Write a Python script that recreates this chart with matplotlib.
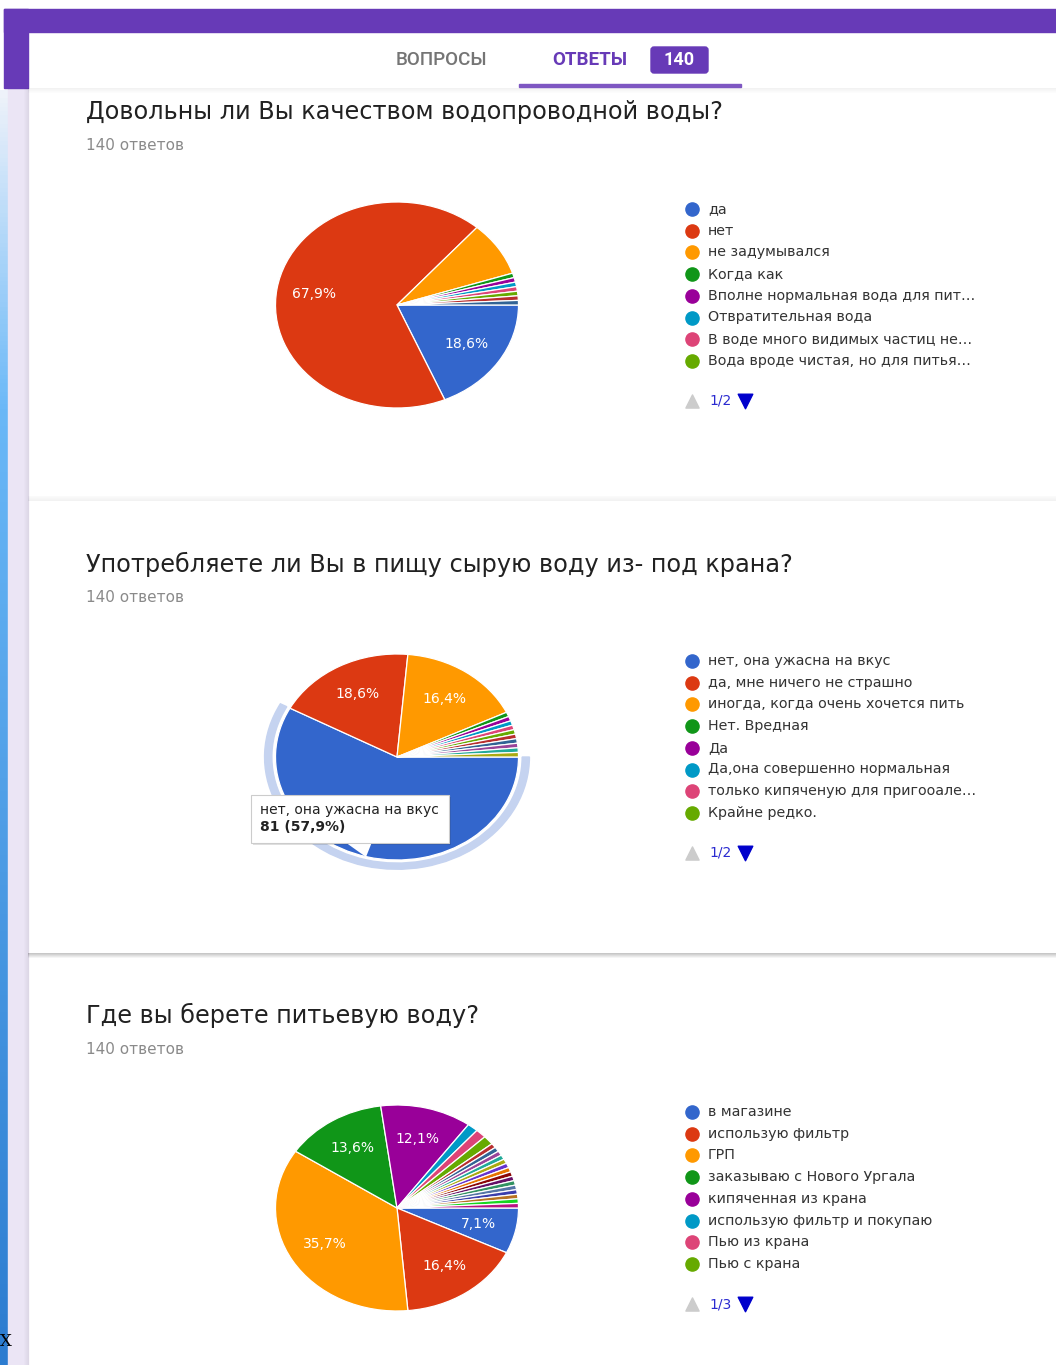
import numpy as np
import matplotlib
matplotlib.use('Agg')
import matplotlib.pyplot as plt
from matplotlib.patches import Rectangle, FancyBboxPatch, Wedge, Polygon

W, H = 1056, 1365
plt.rcParams['font.family'] = ['DejaVu Sans']

# Google charts palette
palette = ['#3366cc', '#dc3912', '#ff9900', '#109618', '#990099', '#0099c6',
           '#dd4477', '#66aa00', '#b82e2e', '#316395', '#994499', '#22aa99',
           '#aaaa11', '#6633cc', '#e67300', '#8b0707', '#651067', '#329262',
           '#5574a6', '#3b3eac', '#b77322', '#16d620', '#b91383', '#f4359e',
           '#9c5935', '#a9c413', '#2a778d', '#668d1c', '#bea413', '#0c5922']

total = 140

q1_title = 'Довольны ли Вы качеством водопроводной воды?'
q1_legend = ['да', 'нет', 'не задумывался', 'Когда как',
             'Вполне нормальная вода для пит…', 'Отвратительная вода',
             'В воде много видимых частиц не…', 'Вода вроде чистая, но для питья…']
q1_counts = [26, 95, 12, 1, 1, 1, 1, 1, 1, 1]
q1_page = '1/2'

q2_title = 'Употребляете ли Вы в пищу сырую воду из- под крана?'
q2_legend = ['нет, она ужасна на вкус', 'да, мне ничего не страшно',
             'иногда, когда очень хочется пить', 'Нет. Вредная', 'Да',
             'Да,она совершенно нормальная', 'только кипяченую для пригооале…',
             'Крайне редко.']
q2_counts = [81, 26, 23, 1, 1, 1, 1, 1, 1, 1, 1, 1, 1]
q2_page = '1/2'
q2_tooltip = ('нет, она ужасна на вкус', '81 (57,9%)')

q3_title = 'Где вы берете питьевую воду?'
q3_legend = ['в магазине', 'использую фильтр', 'ГРП', 'заказываю с Нового Ургала',
             'кипяченная из крана', 'использую фильтр и покупаю', 'Пью из крана',
             'Пью с крана']
q3_counts = [10, 23, 50, 19, 17, 2, 2, 2] + [1] * 15
q3_page = '1/3'

fig = plt.figure(figsize=(W / 100, H / 100), dpi=100)
fig.patch.set_facecolor('white')

bg = fig.add_axes([0, 0, 1, 1], zorder=0)
bg.set_xlim(0, W)
bg.set_ylim(H, 0)
bg.axis('off')

fg = fig.add_axes([0, 0, 1, 1], zorder=10)
fg.set_xlim(0, W)
fg.set_ylim(H, 0)
fg.axis('off')
fg.patch.set_alpha(0)

# page chrome
grad = np.linspace(0, 1, 300).reshape(-1, 1)
strip_cmap = matplotlib.colors.LinearSegmentedColormap.from_list(
    'strip', [(0, '#eef2fa'), (0.25, '#6ab8f7'), (1, '#2c7cd0')])
bg.imshow(grad, extent=[0, 8, H, 90], aspect='auto', cmap=strip_cmap,
          origin='upper', zorder=1)
bg.add_patch(Rectangle((8, 88), 20, H - 88, color='#ebe5f5', zorder=1))
bg.add_patch(Rectangle((4, 9), W, 23, color='#673ab7', zorder=2))
bg.add_patch(Rectangle((4, 9), 24, 79, color='#673ab7', zorder=2))
# card shadows
for k in range(5):
    bg.add_patch(Rectangle((28, 88 + k), W, 1, color='#000000', alpha=0.05 - k * 0.01, lw=0, zorder=3))
    bg.add_patch(Rectangle((28, 496 + k), W, 1, color='#000000', alpha=0.02 + k * 0.008, lw=0, zorder=3))
    bg.add_patch(Rectangle((28, 953 + k), W, 1, color='#000000', alpha=0.22 - k * 0.045, lw=0, zorder=3))
    bg.add_patch(Rectangle((24 + k, 88), 1, H - 88, color='#000000', alpha=0.01 + k * 0.012, lw=0, zorder=3))

# tabs
bg.text(441, 60, 'ВОПРОСЫ', family='Roboto', fontsize=13.5, color='#757575',
        ha='center', va='center', weight='medium')
bg.text(590, 60, 'ОТВЕТЫ', family='Roboto', fontsize=13.5, color='#673ab7',
        ha='center', va='center', weight='bold')
bg.add_patch(FancyBboxPatch((651, 47), 57, 26, boxstyle='round,pad=0,rounding_size=3',
                            color='#673ab7', zorder=3))
bg.text(679.5, 60, '140', family='Roboto', fontsize=13, color='white',
        ha='center', va='center', weight='bold', zorder=4)
bg.add_patch(Rectangle((519, 84), 222, 3, color='#7e57c2', zorder=4))


def pie_axes(cx, cy, rx, ry, lim=1.12):
    ax = fig.add_axes([(cx - rx * lim) / W, 1 - (cy + ry * lim) / H,
                       2 * rx * lim / W, 2 * ry * lim / H], zorder=5)
    return ax


def pct(p):
    return ('%.1f%%' % p).replace('.', ',') if p > 5 else ''


def draw_question(y0, title, counts, legend, page, label_skip=()):
    bg.text(86, y0, title, fontsize=17.3, color='#212121', va='center', zorder=4)
    bg.text(86, y0 + 34, '%d ответов' % total, fontsize=11, color='#8a8a8a',
            va='center', zorder=4)
    cx, cy = 397, y0 + 193
    ax = pie_axes(cx, cy, 121.5, 103)
    wedges, texts, autotexts = ax.pie(counts, colors=palette[:len(counts)],
                                      startangle=0, counterclock=False,
                                      autopct=pct, pctdistance=0.69,
                                      wedgeprops=dict(edgecolor='white', linewidth=0.9),
                                      textprops=dict(color='white', fontsize=10))
    for i in label_skip:
        autotexts[i].set_text('')
    ax.set_aspect('auto')
    ax.set_xlim(-1.12, 1.12)
    ax.set_ylim(-1.12, 1.12)
    ax.axis('off')
    # legend
    ly = y0 + 97
    for i, lab in enumerate(legend):
        yy = ly + i * 21.7
        bg.scatter([692], [yy], s=90, color=palette[i], zorder=4)
        bg.text(708, yy, lab, fontsize=10.3, color='#333333', va='center', zorder=4)
    py = ly + 192
    bg.scatter([692], [py], s=90, marker='^', color='#cccccc', zorder=4)
    bg.text(709, py, page, fontsize=10, color='#2a2ad0', va='center', zorder=4)
    bg.scatter([745], [py], s=110, marker='v', color='#0000cc', zorder=4)
    return ax, wedges


draw_question(112, q1_title, q1_counts, q1_legend, q1_page, label_skip=(2,))
ax2, w2 = draw_question(564, q2_title, q2_counts, q2_legend, q2_page)
draw_question(1015, q3_title, q3_counts, q3_legend, q3_page)

# highlight halo around hovered slice of question 2
hw = w2[0]
ax2.add_patch(Wedge((0, 0), 1.09, hw.theta1, hw.theta2, width=0.06,
                    color='#c5d3f0', zorder=0))

# tooltip
fg.add_patch(Polygon([[345, 842], [372, 842], [366, 857]], closed=True,
                     facecolor='white', edgecolor='none', zorder=5))
fg.add_patch(Rectangle((253, 797), 198, 48, facecolor='#000000', alpha=0.12,
                       lw=0, zorder=4))
fg.add_patch(Rectangle((251, 795), 198, 48, facecolor='white', edgecolor='#cccccc',
                       lw=0.8, zorder=5))
fg.text(260, 810, q2_tooltip[0], fontsize=10, color='#222222', va='center', zorder=6)
fg.text(260, 827, q2_tooltip[1], fontsize=10, color='#222222', va='center',
        weight='bold', zorder=6)

# cropped glyph at bottom-left edge
fg.text(0, 1342, 'X', family='DejaVu Serif', fontsize=12, color='black',
        va='center', zorder=6)

fig.savefig('out.png', dpi=100)
